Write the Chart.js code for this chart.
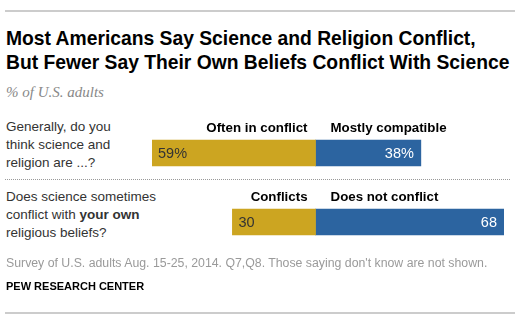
<!DOCTYPE html>
<html lang="en">
<head>
<meta charset="UTF-8">
<title>Science and Religion</title>
<script src="https://cdn.jsdelivr.net/npm/chart.js"></script>
<style>
    body { margin: 0; background: #fff; }
    #wrap { position: relative; width: 525px; height: 323px; overflow: hidden; font-family: "Liberation Sans", Arial, sans-serif; }
    #wrap canvas { position: absolute; left: 0; top: 0; }
    .rule { position: absolute; left: 5px; width: 510px; border-top: 2px solid #ccc; }
    .dots { position: absolute; left: 5px; width: 505px; top: 179px; border-top: 1px dotted #999; }
    .title { position: absolute; left: 6px; top: 27px; white-space: nowrap; font-weight: bold; font-size: 19.3px; line-height: 23.5px; color: #000; }
    .sub { position: absolute; left: 6px; top: 84px; font-family: "Liberation Serif", serif; font-style: italic; font-size: 15px; color: #888; }
    .q { position: absolute; left: 6px; font-size: 13.5px; line-height: 18px; color: #333; }
    .note { position: absolute; left: 6px; top: 256px; font-size: 12.3px; color: #9a9a9a; white-space: nowrap; }
    .src { position: absolute; left: 6px; top: 280px; font-weight: bold; font-size: 11px; color: #000; }
</style>
</head>
<body>
<div id="wrap">
    <div class="rule" style="top:10px"></div>
    <div class="title">Most Americans Say Science and Religion Conflict,<br>But Fewer Say Their Own Beliefs Conflict With Science</div>
    <div class="sub">% of U.S. adults</div>
    <div class="q" style="top:118px">Generally, do you<br>think science and<br>religion are ...?</div>
    <div class="dots"></div>
    <div class="q" style="top:188px">Does science sometimes<br>conflict with <b>your own</b><br>religious beliefs?</div>
    <canvas id="chart" width="525" height="323"></canvas>
    <div class="note">Survey of U.S. adults Aug. 15-25, 2014. Q7,Q8. Those saying don't know are not shown.</div>
    <div class="src">PEW RESEARCH CENTER</div>
    <div class="rule" style="top:312px"></div>
</div>

<script>
    // survey answers, one entry per question
    var questions = ['General', 'Own beliefs'];
    var conflictValues = [59, 30];
    var compatibleValues = [38, 68];
    var valueSuffix = ['%', ''];
    var conflictHeads = ['Often in conflict', 'Conflicts'];
    var compatibleHeads = ['Mostly compatible', 'Does not conflict'];

    var gold = '#CCA521';
    var blue = '#2C64A0';
    var headFont = 'bold 13.3px "Liberation Sans", sans-serif';

    // value labels inside the bars, plus the answer headings above each bar
    var barText = {
        id: 'barText',
        afterDatasetsDraw: function (chart) {
            var ctx = chart.ctx;
            var left = chart.getDatasetMeta(0).data;
            var right = chart.getDatasetMeta(1).data;
            ctx.save();
            ctx.textBaseline = 'middle';
            for (var i = 0; i < questions.length; i++) {
                var a = left[i], b = right[i];
                ctx.font = '14.5px "Liberation Sans", sans-serif';
                ctx.fillStyle = '#333';
                ctx.textAlign = 'left';
                ctx.fillText(conflictValues[i] + valueSuffix[i], a.x + 6, a.y + 1);
                ctx.fillStyle = '#fff';
                ctx.textAlign = 'right';
                ctx.fillText(compatibleValues[i] + valueSuffix[i], b.x - 7, b.y + 1);

                var top = a.y - a.height / 2 - 12;
                ctx.font = headFont;
                ctx.fillStyle = '#000';
                ctx.textAlign = 'right';
                ctx.fillText(conflictHeads[i], a.base - 8, top);
                ctx.textAlign = 'left';
                ctx.fillText(compatibleHeads[i], b.base + 15, top);
            }
            ctx.restore();
        }
    };

    var chart = new Chart(document.getElementById('chart'), {
        type: 'bar',
        data: {
            labels: questions,
            datasets: [{
                label: 'Conflict',
                data: conflictValues.map(function (v) { return -v; }),
                backgroundColor: gold,
                barThickness: 26
            }, {
                label: 'Compatible',
                data: compatibleValues,
                backgroundColor: blue,
                barThickness: 26
            }]
        },
        options: {
            indexAxis: 'y',
            responsive: false,
            animation: false,
            layout: { padding: { left: 152, right: 21, top: 118.5, bottom: 66.5 } },
            plugins: { legend: { display: false }, tooltip: { enabled: false } },
            scales: {
                x: { stacked: true, display: false, min: -59, max: 68 },
                y: { stacked: true, display: false }
            }
        },
        plugins: [barText]
    });
</script>
</body>
</html>
